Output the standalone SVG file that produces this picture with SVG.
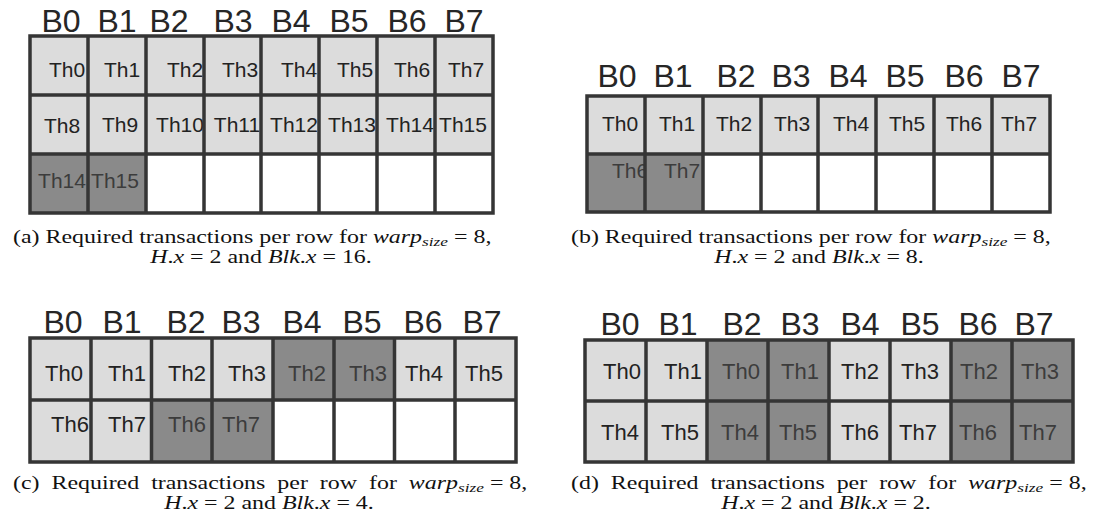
<svg xmlns="http://www.w3.org/2000/svg" width="1095" height="531" viewBox="0 0 1095 531">
<style>
.bg{fill:#fff}
.lt{fill:#dcdcdc}
.dk{fill:#8a8a8a}
.wh{fill:#fff}
.th{font-family:"Liberation Sans",Arial,sans-serif;font-size:21px;fill:#222;text-anchor:middle}
.th2{font-size:22px}
.td{fill:#3c3c3c}
.bl{font-family:"Liberation Sans",Arial,sans-serif;font-size:32px;fill:#262626;text-anchor:middle}
.grid{fill:none;stroke:#353535;stroke-width:3.5}
.cap{font-family:"Liberation Serif","Times New Roman",serif;font-size:18px;fill:#111}
.mid{text-anchor:middle}
.it{font-style:italic}
.sub{font-style:italic;font-size:13px}
</style>
<rect class="bg" x="0" y="0" width="1095" height="531"/>

<!-- Panel (a) -->
<g id="panel-a">
  <g id="a-labels">
    <text class="bl" x="61" y="32">B0</text><text class="bl" x="117" y="32">B1</text><text class="bl" x="169" y="32">B2</text><text class="bl" x="233" y="32">B3</text><text class="bl" x="291" y="32">B4</text><text class="bl" x="349" y="32">B5</text><text class="bl" x="407" y="32">B6</text><text class="bl" x="464" y="32">B7</text>
  </g>
  <g id="a-r0c0"><rect class="lt" x="30" y="36" width="58" height="59"/><text class="th" x="67" y="77">Th0</text></g>
  <g id="a-r0c1"><rect class="lt" x="88" y="36" width="58" height="59"/><text class="th" x="122" y="77">Th1</text></g>
  <g id="a-r0c2"><rect class="lt" x="146" y="36" width="58" height="59"/><text class="th" x="185" y="77">Th2</text></g>
  <g id="a-r0c3"><rect class="lt" x="204" y="36" width="57" height="59"/><text class="th" x="240" y="77">Th3</text></g>
  <g id="a-r0c4"><rect class="lt" x="261" y="36" width="58" height="59"/><text class="th" x="299" y="77">Th4</text></g>
  <g id="a-r0c5"><rect class="lt" x="319" y="36" width="58" height="59"/><text class="th" x="355" y="77">Th5</text></g>
  <g id="a-r0c6"><rect class="lt" x="377" y="36" width="58" height="59"/><text class="th" x="412" y="77">Th6</text></g>
  <g id="a-r0c7"><rect class="lt" x="435" y="36" width="58" height="59"/><text class="th" x="466" y="77">Th7</text></g>
  <g id="a-r1c0"><rect class="lt" x="30" y="95" width="58" height="59"/><text class="th" x="62" y="133">Th8</text></g>
  <g id="a-r1c1"><rect class="lt" x="88" y="95" width="58" height="59"/><text class="th" x="120" y="132">Th9</text></g>
  <g id="a-r1c2"><rect class="lt" x="146" y="95" width="58" height="59"/><text class="th" x="180" y="132">Th10</text></g>
  <g id="a-r1c3"><rect class="lt" x="204" y="95" width="57" height="59"/><text class="th" x="237" y="132">Th11</text></g>
  <g id="a-r1c4"><rect class="lt" x="261" y="95" width="58" height="59"/><text class="th" x="294" y="132">Th12</text></g>
  <g id="a-r1c5"><rect class="lt" x="319" y="95" width="58" height="59"/><text class="th" x="352" y="132">Th13</text></g>
  <g id="a-r1c6"><rect class="lt" x="377" y="95" width="58" height="59"/><text class="th" x="410" y="132">Th14</text></g>
  <g id="a-r1c7"><rect class="lt" x="435" y="95" width="58" height="59"/><text class="th" x="463" y="132">Th15</text></g>
  <g id="a-r2c0"><rect class="dk" x="30" y="154" width="58" height="59"/><text class="th td" x="62" y="188">Th14</text></g>
  <g id="a-r2c1"><rect class="dk" x="88" y="154" width="58" height="59"/><text class="th td" x="115" y="188">Th15</text></g>
  <g id="a-r2c2"><rect class="wh" x="146" y="154" width="58" height="59"/></g>
  <g id="a-r2c3"><rect class="wh" x="204" y="154" width="57" height="59"/></g>
  <g id="a-r2c4"><rect class="wh" x="261" y="154" width="58" height="59"/></g>
  <g id="a-r2c5"><rect class="wh" x="319" y="154" width="58" height="59"/></g>
  <g id="a-r2c6"><rect class="wh" x="377" y="154" width="58" height="59"/></g>
  <g id="a-r2c7"><rect class="wh" x="435" y="154" width="58" height="59"/></g>
  <path class="grid" d="M30 36H493V213H30Z M88 36V213 M146 36V213 M204 36V213 M261 36V213 M319 36V213 M377 36V213 M435 36V213 M30 95H493 M30 154H493"/>
  <g transform="translate(13,243) scale(1.33,1)"><text class="cap" x="0" y="0">(a) Required transactions per row for <tspan class="it">warp</tspan><tspan class="sub" dy="3">size</tspan><tspan dy="-3"> = 8,</tspan></text></g>
  <g transform="translate(261,263) scale(1.33,1)"><text class="cap mid" x="0" y="0"><tspan class="it">H</tspan>.<tspan class="it">x</tspan> = 2 and <tspan class="it">Blk</tspan>.<tspan class="it">x</tspan> = 16.</text></g>
</g>

<!-- Panel (b) -->
<g id="panel-b">
  <g id="b-labels">
    <text class="bl" x="617" y="87">B0</text><text class="bl" x="673" y="87">B1</text><text class="bl" x="736" y="87">B2</text><text class="bl" x="791" y="87">B3</text><text class="bl" x="848" y="87">B4</text><text class="bl" x="905" y="87">B5</text><text class="bl" x="964" y="87">B6</text><text class="bl" x="1021" y="87">B7</text>
  </g>
  <g id="b-r0c0"><rect class="lt" x="587" y="96" width="58" height="58"/><text class="th" x="620" y="131">Th0</text></g>
  <g id="b-r0c1"><rect class="lt" x="645" y="96" width="58" height="58"/><text class="th" x="677" y="131">Th1</text></g>
  <g id="b-r0c2"><rect class="lt" x="703" y="96" width="58" height="58"/><text class="th" x="734" y="131">Th2</text></g>
  <g id="b-r0c3"><rect class="lt" x="761" y="96" width="57" height="58"/><text class="th" x="792" y="131">Th3</text></g>
  <g id="b-r0c4"><rect class="lt" x="818" y="96" width="58" height="58"/><text class="th" x="851" y="131">Th4</text></g>
  <g id="b-r0c5"><rect class="lt" x="876" y="96" width="58" height="58"/><text class="th" x="907" y="131">Th5</text></g>
  <g id="b-r0c6"><rect class="lt" x="934" y="96" width="58" height="58"/><text class="th" x="964" y="131">Th6</text></g>
  <g id="b-r0c7"><rect class="lt" x="992" y="96" width="58" height="58"/><text class="th" x="1019" y="131">Th7</text></g>
  <g id="b-r1c0"><rect class="dk" x="587" y="154" width="58" height="58"/><text class="th td" x="630" y="178">Th6</text></g>
  <g id="b-r1c1"><rect class="dk" x="645" y="154" width="58" height="58"/><text class="th td" x="682" y="178">Th7</text></g>
  <g id="b-r1c2"><rect class="wh" x="703" y="154" width="58" height="58"/></g>
  <g id="b-r1c3"><rect class="wh" x="761" y="154" width="57" height="58"/></g>
  <g id="b-r1c4"><rect class="wh" x="818" y="154" width="58" height="58"/></g>
  <g id="b-r1c5"><rect class="wh" x="876" y="154" width="58" height="58"/></g>
  <g id="b-r1c6"><rect class="wh" x="934" y="154" width="58" height="58"/></g>
  <g id="b-r1c7"><rect class="wh" x="992" y="154" width="58" height="58"/></g>
  <path class="grid" d="M587 96H1050V212H587Z M645 96V212 M703 96V212 M761 96V212 M818 96V212 M876 96V212 M934 96V212 M992 96V212 M587 154H1050"/>
  <g transform="translate(571,243) scale(1.33,1)"><text class="cap" x="0" y="0">(b) Required transactions per row for <tspan class="it">warp</tspan><tspan class="sub" dy="3">size</tspan><tspan dy="-3"> = 8,</tspan></text></g>
  <g transform="translate(819,263) scale(1.33,1)"><text class="cap mid" x="0" y="0"><tspan class="it">H</tspan>.<tspan class="it">x</tspan> = 2 and <tspan class="it">Blk</tspan>.<tspan class="it">x</tspan> = 8.</text></g>
</g>

<!-- Panel (c) -->
<g id="panel-c">
  <g id="c-labels">
    <text class="bl" x="63" y="333">B0</text><text class="bl" x="122" y="333">B1</text><text class="bl" x="186" y="333">B2</text><text class="bl" x="241" y="333">B3</text><text class="bl" x="302" y="333">B4</text><text class="bl" x="362" y="333">B5</text><text class="bl" x="423" y="333">B6</text><text class="bl" x="482" y="333">B7</text>
  </g>
  <g id="c-r0c0"><rect class="lt" x="30" y="338" width="61" height="62"/><text class="th th2" x="64" y="381">Th0</text></g>
  <g id="c-r0c1"><rect class="lt" x="91" y="338" width="60.5" height="62"/><text class="th th2" x="127" y="381">Th1</text></g>
  <g id="c-r0c2"><rect class="lt" x="151.5" y="338" width="60.5" height="62"/><text class="th th2" x="187" y="381">Th2</text></g>
  <g id="c-r0c3"><rect class="lt" x="212" y="338" width="61" height="62"/><text class="th th2" x="247" y="381">Th3</text></g>
  <g id="c-r0c4"><rect class="dk" x="273" y="338" width="61" height="62"/><text class="th th2 td" x="307" y="381">Th2</text></g>
  <g id="c-r0c5"><rect class="dk" x="334" y="338" width="60.5" height="62"/><text class="th th2 td" x="368" y="381">Th3</text></g>
  <g id="c-r0c6"><rect class="lt" x="394.5" y="338" width="60.5" height="62"/><text class="th th2" x="424" y="381">Th4</text></g>
  <g id="c-r0c7"><rect class="lt" x="455" y="338" width="61" height="62"/><text class="th th2" x="484" y="381">Th5</text></g>
  <g id="c-r1c0"><rect class="lt" x="30" y="400" width="61" height="62"/><text class="th th2" x="70" y="432">Th6</text></g>
  <g id="c-r1c1"><rect class="lt" x="91" y="400" width="60.5" height="62"/><text class="th th2" x="127" y="432">Th7</text></g>
  <g id="c-r1c2"><rect class="dk" x="151.5" y="400" width="60.5" height="62"/><text class="th th2 td" x="187" y="432">Th6</text></g>
  <g id="c-r1c3"><rect class="dk" x="212" y="400" width="61" height="62"/><text class="th th2 td" x="241" y="432">Th7</text></g>
  <g id="c-r1c4"><rect class="wh" x="273" y="400" width="61" height="62"/></g>
  <g id="c-r1c5"><rect class="wh" x="334" y="400" width="60.5" height="62"/></g>
  <g id="c-r1c6"><rect class="wh" x="394.5" y="400" width="60.5" height="62"/></g>
  <g id="c-r1c7"><rect class="wh" x="455" y="400" width="61" height="62"/></g>
  <path class="grid" d="M30 338H516V462H30Z M91 338V462 M151.5 338V462 M212 338V462 M273 338V462 M334 338V462 M394.5 338V462 M455 338V462 M30 400H516"/>
  <g transform="translate(13,489) scale(1.33,1)"><text class="cap" x="0" y="0"><tspan word-spacing="4.5">(c) Required transactions per row for </tspan><tspan class="it">warp</tspan><tspan class="sub" dy="3">size</tspan><tspan dy="-3"> = 8,</tspan></text></g>
  <g transform="translate(269,509) scale(1.33,1)"><text class="cap mid" x="0" y="0"><tspan class="it">H</tspan>.<tspan class="it">x</tspan> = 2 and <tspan class="it">Blk</tspan>.<tspan class="it">x</tspan> = 4.</text></g>
</g>

<!-- Panel (d) -->
<g id="panel-d">
  <g id="d-labels">
    <text class="bl" x="620" y="335">B0</text><text class="bl" x="678" y="335">B1</text><text class="bl" x="742" y="335">B2</text><text class="bl" x="800" y="335">B3</text><text class="bl" x="860" y="335">B4</text><text class="bl" x="920" y="335">B5</text><text class="bl" x="978" y="335">B6</text><text class="bl" x="1034" y="335">B7</text>
  </g>
  <g id="d-r0c0"><rect class="lt" x="585" y="340" width="61" height="61"/><text class="th th2" x="622" y="379">Th0</text></g>
  <g id="d-r0c1"><rect class="lt" x="646" y="340" width="61" height="61"/><text class="th th2" x="683" y="379">Th1</text></g>
  <g id="d-r0c2"><rect class="dk" x="707" y="340" width="61" height="61"/><text class="th th2 td" x="741" y="379">Th0</text></g>
  <g id="d-r0c3"><rect class="dk" x="768" y="340" width="61" height="61"/><text class="th th2 td" x="800" y="379">Th1</text></g>
  <g id="d-r0c4"><rect class="lt" x="829" y="340" width="61" height="61"/><text class="th th2" x="860" y="379">Th2</text></g>
  <g id="d-r0c5"><rect class="lt" x="890" y="340" width="61" height="61"/><text class="th th2" x="920" y="379">Th3</text></g>
  <g id="d-r0c6"><rect class="dk" x="951" y="340" width="61" height="61"/><text class="th th2 td" x="979" y="379">Th2</text></g>
  <g id="d-r0c7"><rect class="dk" x="1012" y="340" width="61" height="61"/><text class="th th2 td" x="1040" y="379">Th3</text></g>
  <g id="d-r1c0"><rect class="lt" x="585" y="401" width="61" height="61"/><text class="th th2" x="620" y="440">Th4</text></g>
  <g id="d-r1c1"><rect class="lt" x="646" y="401" width="61" height="61"/><text class="th th2" x="680" y="440">Th5</text></g>
  <g id="d-r1c2"><rect class="dk" x="707" y="401" width="61" height="61"/><text class="th th2 td" x="740" y="440">Th4</text></g>
  <g id="d-r1c3"><rect class="dk" x="768" y="401" width="61" height="61"/><text class="th th2 td" x="798" y="440">Th5</text></g>
  <g id="d-r1c4"><rect class="lt" x="829" y="401" width="61" height="61"/><text class="th th2" x="860" y="440">Th6</text></g>
  <g id="d-r1c5"><rect class="lt" x="890" y="401" width="61" height="61"/><text class="th th2" x="918" y="440">Th7</text></g>
  <g id="d-r1c6"><rect class="dk" x="951" y="401" width="61" height="61"/><text class="th th2 td" x="978" y="440">Th6</text></g>
  <g id="d-r1c7"><rect class="dk" x="1012" y="401" width="61" height="61"/><text class="th th2 td" x="1038" y="440">Th7</text></g>
  <path class="grid" d="M585 340H1073V462H585Z M646 340V462 M707 340V462 M768 340V462 M829 340V462 M890 340V462 M951 340V462 M1012 340V462 M585 401H1073"/>
  <g transform="translate(571,489) scale(1.33,1)"><text class="cap" x="0" y="0"><tspan word-spacing="4.5">(d) Required transactions per row for </tspan><tspan class="it">warp</tspan><tspan class="sub" dy="3">size</tspan><tspan dy="-3"> = 8,</tspan></text></g>
  <g transform="translate(826,509) scale(1.33,1)"><text class="cap mid" x="0" y="0"><tspan class="it">H</tspan>.<tspan class="it">x</tspan> = 2 and <tspan class="it">Blk</tspan>.<tspan class="it">x</tspan> = 2.</text></g>
</g>

<g id="connectors"/>
</svg>
